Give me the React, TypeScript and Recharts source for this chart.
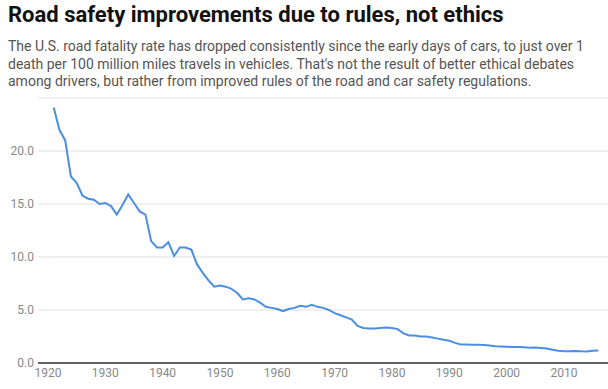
import React from 'react';
import { LineChart, Line, XAxis, YAxis, CartesianGrid } from 'recharts';

// U.S. road fatalities per 100 million vehicle miles travelled
const years = [
  1921, 1922, 1923, 1924, 1925, 1926, 1927, 1928, 1929, 1930,
  1931, 1932, 1933, 1934, 1935, 1936, 1937, 1938, 1939, 1940,
  1941, 1942, 1943, 1944, 1945, 1946, 1947, 1948, 1949, 1950,
  1951, 1952, 1953, 1954, 1955, 1956, 1957, 1958, 1959, 1960,
  1961, 1962, 1963, 1964, 1965, 1966, 1967, 1968, 1969, 1970,
  1971, 1972, 1973, 1974, 1975, 1976, 1977, 1978, 1979, 1980,
  1981, 1982, 1983, 1984, 1985, 1986, 1987, 1988, 1989, 1990,
  1991, 1992, 1993, 1994, 1995, 1996, 1997, 1998, 1999, 2000,
  2001, 2002, 2003, 2004, 2005, 2006, 2007, 2008, 2009, 2010,
  2011, 2012, 2013, 2014, 2015, 2016,
];

const fatalityRate = [
  24.1, 22.0, 21.0, 17.6, 17.0, 15.8, 15.5, 15.4, 15.0, 15.1,
  14.8, 14.0, 14.9, 15.9, 15.1, 14.3, 14.0, 11.5, 10.9, 10.9,
  11.4, 10.1, 10.9, 10.9, 10.7, 9.3, 8.5, 7.8, 7.2, 7.3,
  7.2, 7.0, 6.6, 6.0, 6.1, 6.0, 5.7, 5.3, 5.2, 5.1,
  4.9, 5.1, 5.2, 5.4, 5.3, 5.5, 5.3, 5.2, 5.0, 4.7,
  4.5, 4.3, 4.1, 3.5, 3.3, 3.25, 3.25, 3.3, 3.35, 3.3,
  3.2, 2.8, 2.6, 2.6, 2.5, 2.5, 2.4, 2.3, 2.2, 2.1,
  1.9, 1.75, 1.75, 1.73, 1.72, 1.69, 1.64, 1.58, 1.55, 1.53,
  1.51, 1.51, 1.48, 1.44, 1.46, 1.42, 1.36, 1.26, 1.15, 1.11,
  1.1, 1.14, 1.1, 1.08, 1.15, 1.18,
];

const xTicks = [1920, 1930, 1940, 1950, 1960, 1970, 1980, 1990, 2000, 2010];
const yTicks = [0, 5, 10, 15, 20];

const data = years.map((year, i) => ({ year, rate: fatalityRate[i] }));

const FONT = 'Roboto, "Noto Sans", sans-serif';

const App: React.FC = () => {
  return (
    <div style={{ position: 'absolute', left: 0, top: 0, width: 608, height: 389, background: '#fff', fontFamily: FONT }}>
      <div style={{ position: 'absolute', left: 8, top: 2, fontSize: 22, fontWeight: 700, color: '#111', whiteSpace: 'nowrap' }}>
        Road safety improvements due to rules, not ethics
      </div>
      <div style={{ position: 'absolute', left: 8, top: 38, width: 596, fontSize: 14, lineHeight: '17.5px', color: '#555' }}>
        The U.S. road fatality rate has dropped consistently since the early days of cars, to just over 1 death per 100 million miles travels in vehicles. That's not the result of better ethical debates among drivers, but rather from improved rules of the road and car safety regulations.
      </div>
      <div style={{ position: 'absolute', left: 0, top: 0 }}>
        <LineChart width={608} height={389} data={data} margin={{ top: 98, right: 0, bottom: 0, left: 0 }}>
          <CartesianGrid vertical={false} stroke="#e0e0e0" strokeWidth={1} />
          <XAxis
            dataKey="year"
            type="number"
            domain={[1918.26, 2017.68]}
            ticks={xTicks}
            allowDataOverflow
            axisLine={{ stroke: '#333', strokeWidth: 1.5 }}
            tickLine={false}
            tickSize={0}
            tickMargin={5}
            height={26}
            tick={{ fill: '#888', fontSize: 12, fontFamily: FONT }}
            interval={0}
          />
          <YAxis
            type="number"
            domain={[0, 25]}
            ticks={yTicks}
            allowDataOverflow
            axisLine={false}
            tickLine={false}
            tickSize={0}
            tickMargin={4}
            width={38}
            tickFormatter={(v: number) => v.toFixed(1)}
            tick={{ fill: '#888', fontSize: 12, fontFamily: FONT }}
          />
          <Line
            type="linear"
            dataKey="rate"
            stroke="#4a8fe2"
            strokeWidth={2}
            dot={false}
            isAnimationActive={false}
          />
        </LineChart>
      </div>
    </div>
  );
};

export default App;
